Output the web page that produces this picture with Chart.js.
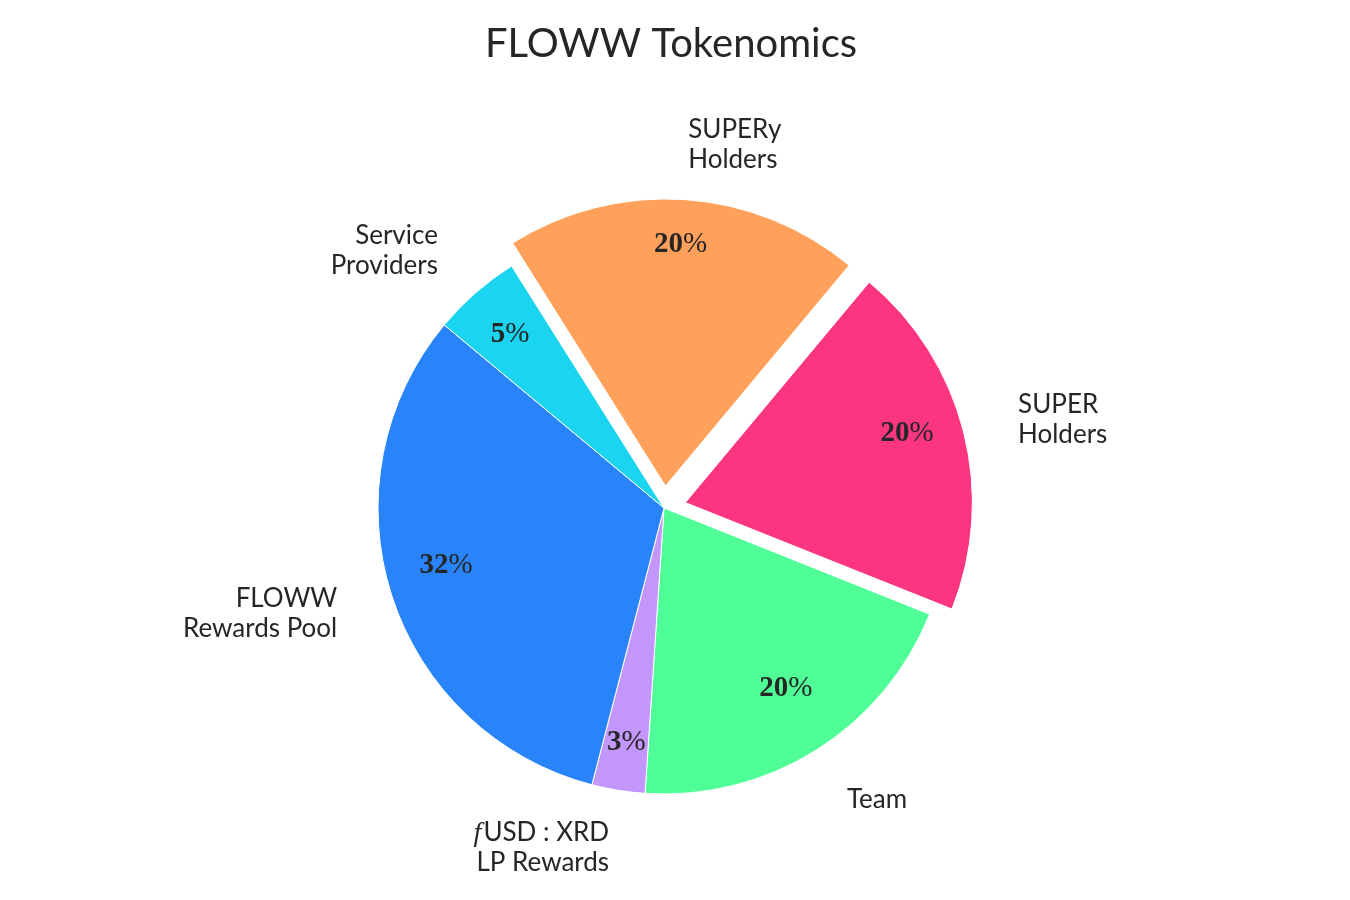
<!DOCTYPE html>
<html>
<head>
<meta charset="utf-8">
<title>FLOWW Tokenomics</title>
<script src="https://cdn.jsdelivr.net/npm/chart.js@4.4.1/dist/chart.umd.min.js"></script>
<style>
  body { margin: 0; background: #ffffff; }
  #myChart { display: block; }
</style>
</head>
<body>
<canvas id="myChart" width="1350" height="900"></canvas>
<script>
// slices, clockwise starting from the SUPER Holders wedge
const sliceLabels = ['SUPER\nHolders', 'Team', '$f$USD : XRD\nLP Rewards', 'FLOWW\nRewards Pool', 'Service\nProviders', 'SUPERy\nHolders'];
const shares = [20, 20, 3, 32, 5, 20];
const sliceColors = ['#FB3580', '#4FFE97', '#C396FC', '#2984F9', '#1AD4F0', '#FFA15A'];
const explodePx = [22, 0, 0, 0, 0, 22];

// where the percentage text sits inside each wedge
const pctDist = [0.8, 0.8, 0.825, 0.8, 0.817, 0.8];
const pctLift = [15, 15, 0, 15, 0, 15];

const textColor = '#262626';
const sansFont = 'Lato, "Open Sans", sans-serif';
const serifFont = '"Liberation Serif", "DejaVu Serif", serif';

const drawLabelLine = (ctx, str, x, y, align, size) => {
    // split "$f$" math parts (italic serif) from the plain sans text
    const parts = str.split('$').map((s, i) => ({
        text: s,
        italic: i % 2 === 1,
        font: i % 2 ? `italic ${size + 2}px ${serifFont}` : `${size}px ${sansFont}`
    })).filter(p => p.text.length);
    let total = 0;
    parts.forEach(p => {
        ctx.font = p.font;
        p.w = ctx.measureText(p.text).width + (p.italic ? 2 : 0);
        total += p.w;
    });
    let cx = align === 'left' ? x : x - total;
    ctx.textAlign = 'left';
    parts.forEach(p => {
        ctx.font = p.font;
        ctx.fillText(p.text, cx, y);
        cx += p.w;
    });
};

const pieText = {
    id: 'pieText',
    afterDatasetsDraw(chart) {
        const ctx = chart.ctx;
        const meta = chart.getDatasetMeta(0);
        ctx.save();
        ctx.fillStyle = textColor;
        ctx.textBaseline = 'alphabetic';

        // title
        ctx.font = `40px ${sansFont}`;
        ctx.textAlign = 'center';
        ctx.fillText('FLOWW Tokenomics', 671, 57);

        meta.data.forEach((arc, i) => {
            const {x, y, startAngle, endAngle, outerRadius} = arc.getProps(['x', 'y', 'startAngle', 'endAngle', 'outerRadius'], true);
            const mid = (startAngle + endAngle) / 2;
            const cx = x + Math.cos(mid) * explodePx[i];
            const cy = y + Math.sin(mid) * explodePx[i];

            // percentage: bold digits, light percent sign
            const px = cx + Math.cos(mid) * outerRadius * pctDist[i];
            const py = cy + Math.sin(mid) * outerRadius * pctDist[i] - pctLift[i];
            const num = String(shares[i]);
            const size = 29;
            ctx.font = `bold ${size}px ${serifFont}`;
            const wNum = ctx.measureText(num).width;
            ctx.font = `${size}px ${serifFont}`;
            const wPct = ctx.measureText('%').width;
            const left = px - (wNum + wPct) / 2;
            const base = py + size * 0.33;
            ctx.textAlign = 'left';
            ctx.font = `bold ${size}px ${serifFont}`;
            ctx.fillText(num, left, base);
            ctx.font = `${size}px ${serifFont}`;
            ctx.fillText('%', left + wNum, base);

            // outer label
            const lx = cx + Math.cos(mid) * outerRadius * 1.2;
            const ly = cy + Math.sin(mid) * outerRadius * 1.2;
            const align = lx > x ? 'left' : 'right';
            const lines = sliceLabels[i].split('\n');
            const lineH = 30;
            const fs = 26;
            lines.forEach((line, k) => {
                const lc = ly + (k - (lines.length - 1) / 2) * lineH;
                drawLabelLine(ctx, line, lx, lc + fs * 0.36, align, fs);
            });
        });
        ctx.restore();
    }
};

const ctx = document.getElementById('myChart').getContext('2d');
new Chart(ctx, {
    type: 'pie',
    data: {
        labels: sliceLabels,
        datasets: [
            {
                data: shares,
                backgroundColor: sliceColors,
                borderColor: '#ffffff',
                borderWidth: 1,
                // the arc element moves a wedge by offset / 4
                offset: explodePx.map(v => v * 4),
                radius: 286
            }
        ]
    },
    options: {
        responsive: false,
        animation: false,
        rotation: 39.8,
        layout: {
            padding: {left: 0, right: 22, top: 128, bottom: 12}
        },
        plugins: {
            legend: {display: false},
            tooltip: {enabled: false},
            title: {display: false}
        }
    },
    plugins: [pieText]
});
</script>
</body>
</html>
